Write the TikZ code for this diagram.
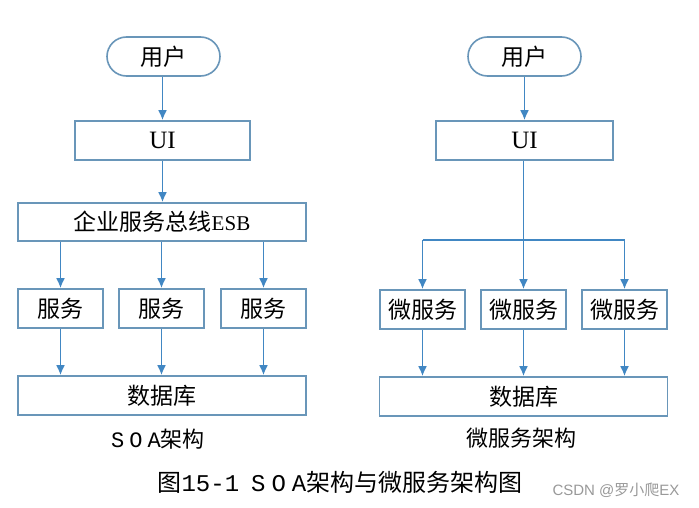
\documentclass[tikz,border=0pt]{standalone}
\usepackage{fontspec}
\setmainfont{Liberation Serif}
\newfontfamily\cjk{Noto Sans CJK SC}
\newfontfamily\monoL{Liberation Mono}
\newfontfamily\wmfont{Liberation Sans}
\usetikzlibrary{arrows.meta}
\definecolor{boxc}{RGB}{105,150,185}
\definecolor{arrc}{RGB}{65,135,195}
\begin{document}
\begin{tikzpicture}[x=1pt,y=-1pt,
  box/.style={draw=boxc, line width=1.6pt, inner sep=0pt, minimum height=39pt, font=\fontsize{23}{26}\selectfont},
  term/.style={box, rounded corners=19.5pt, minimum width=113pt},
  conn/.style={draw=arrc, line width=1.9pt},
  arr/.style={conn, -{Latex[length=10pt,width=9pt]}},
  lbl/.style={inner sep=0pt, font=\fontsize{22}{25}\selectfont}
]
\useasboundingbox (0,0) rectangle (699,508);
\fill[white] (0,0) rectangle (699,508);

% ---------- SOA ----------
\node[term] (u1) at (163.5,56.5) {\cjk 用户};
\node[box, minimum width=175pt] (ui1) at (162.5,140.5) {\fontsize{25}{27}\selectfont UI};
\node[box, minimum width=288pt, minimum height=38pt] (esb) at (162,222) {{\cjk 企业服务总线}{\fontsize{21}{24}\selectfont ESB}};
\node[box, minimum width=85pt] (s1) at (60.5,308.5) {\cjk 服务};
\node[box, minimum width=85pt] (s2) at (161.5,308.5) {\cjk 服务};
\node[box, minimum width=85pt] (s3) at (263.5,308.5) {\cjk 服务};
\node[box, minimum width=288pt] (db1) at (162,395.5) {\cjk 数据库};
\node[lbl] (t1) at (158,439) {{\monoL S\hspace{5pt}O\hspace{5pt}A}{\cjk 架构}};

\draw[arr] (u1.south -| ui1.north) -- (ui1.north);
\draw[arr] (ui1.south) -- (ui1.south |- esb.north);
\foreach \s in {s1,s2,s3}{
  \draw[arr] (\s.north |- esb.south) -- (\s.north);
  \draw[arr] (\s.south) -- (\s.south |- db1.north);
}

% ---------- Microservices ----------
\node[term] (u2) at (524.5,56.5) {\cjk 用户};
\node[box, minimum width=177pt] (ui2) at (524.5,140.5) {\fontsize{25}{27}\selectfont UI};
\node[box, minimum width=85pt] (m1) at (422.5,309.5) {\cjk 微服务};
\node[box, minimum width=85pt] (m2) at (523.5,309.5) {\cjk 微服务};
\node[box, minimum width=85pt] (m3) at (624.5,309.5) {\cjk 微服务};
\node[box, minimum width=288pt] (db2) at (523.5,396.5) {\cjk 数据库};
\node[lbl] (t2) at (521,438) {\cjk 微服务架构};
\coordinate (j) at (524,240);

\draw[arr] (u2.south) -- (u2.south |- ui2.north);
\draw[arr] (ui2.south -| m2.north) -- (m2.north);
\draw[conn] (m1.north |- j) -- (m3.north |- j);
\draw[arr] (m1.north |- j) -- (m1.north);
\draw[arr] (m3.north |- j) -- (m3.north);
\foreach \s in {m1,m2,m3}{
  \draw[arr] (\s.south) -- (\s.south |- db2.north);
}

% ---------- caption ----------
\node[lbl, font=\fontsize{24}{27}\selectfont] (cap) at (340,482) {{\cjk 图}{\monoL 15-1\hspace{12pt}S\hspace{6pt}O\hspace{6pt}A}{\cjk 架构与微服务架构图}};
\node[lbl, font=\fontsize{15}{17}\selectfont, text=black!40] (wm) at (616,490) {\wmfont CSDN @{\cjk 罗小爬}EX};
\end{tikzpicture}
\end{document}
